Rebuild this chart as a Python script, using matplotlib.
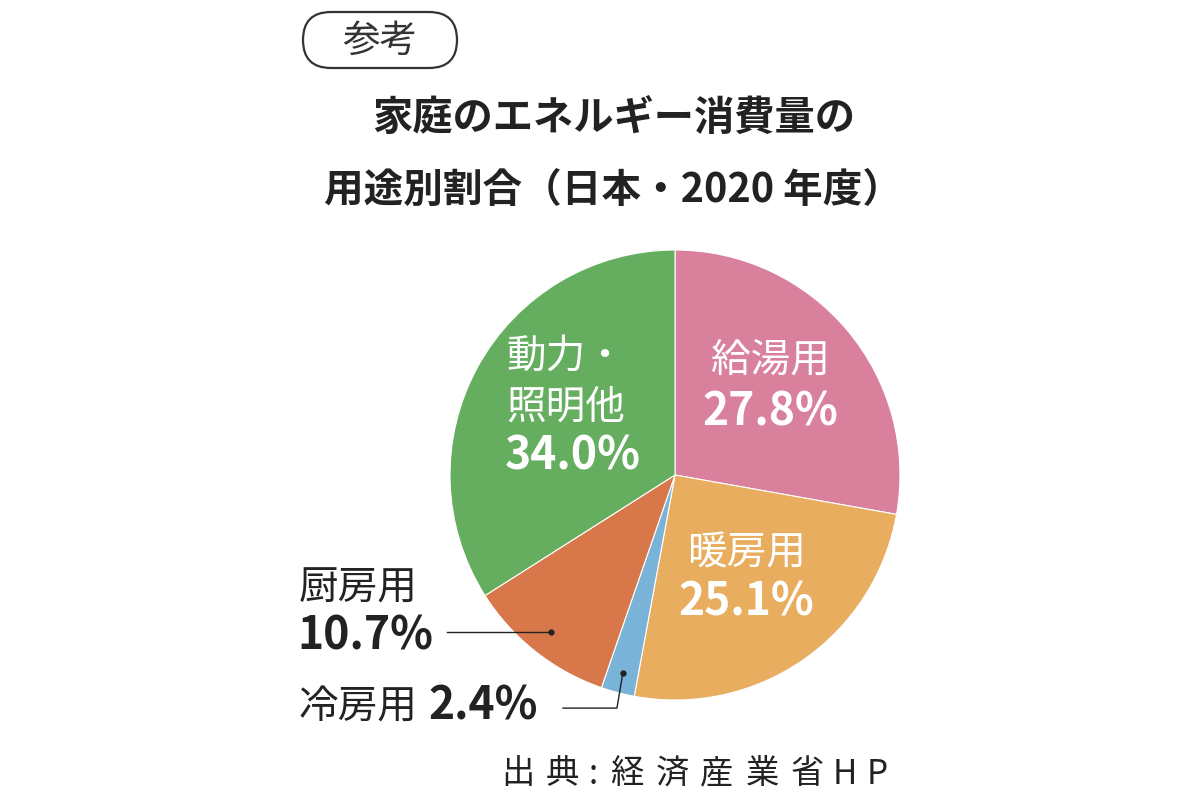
import numpy as np
import matplotlib
matplotlib.use("Agg")
import matplotlib.pyplot as plt
from matplotlib.patches import FancyBboxPatch

plt.rcParams['font.family'] = ['Noto Sans CJK JP', 'DejaVu Sans']

# ---- data ----
categories = ["給湯用", "暖房用", "冷房用", "厨房用", "動力・照明他"]
shares = [27.8, 25.1, 2.4, 10.7, 34.0]
colors = ["#D9809D", "#E8AD5F", "#79B3D8", "#D8784A", "#66AE5F"]
title_lines = ["家庭のエネルギー消費量の", "用途別割合（日本・2020 年度）"]
badge = "参考"
source = "出典:経済産業省HP"

fig = plt.figure(figsize=(12, 8), dpi=100)
fig.patch.set_facecolor("white")

# pie axes: center (675,475), radius 225 px
cx, cy, R = 675, 475, 225
pa = fig.add_axes([(cx - R) / 1200, (800 - cy - R) / 800, 2 * R / 1200, 2 * R / 800])
wedges, _ = pa.pie(shares, colors=colors, startangle=90, counterclock=False,
                   wedgeprops=dict(edgecolor="white", linewidth=0.8))
pa.set_xlim(-1, 1)
pa.set_ylim(-1, 1)
pa.set_aspect("equal")
pa.axis("off")

# overlay axes in pixel coordinates for text (on top)
ov = fig.add_axes([0, 0, 1, 1])
ov.set_xlim(0, 1200)
ov.set_ylim(800, 0)
ov.axis("off")
ov.patch.set_alpha(0)
ov.set_zorder(5)

dark = "#222222"
CJK = 28.5
NUM = 32

# badge
box = FancyBboxPatch((303, 12), 154, 56, boxstyle="round,pad=0,rounding_size=28",
                     fc="white", ec="#333333", lw=1.6, transform=ov.transData)
ov.add_patch(box)
ov.text(380, 41, badge, ha="center", va="center", fontsize=27, color="#333333")

# title
ov.text(614, 118, title_lines[0], ha="center", va="center", fontsize=29,
        fontweight="bold", color=dark)
ov.text(613, 190, title_lines[1], ha="center", va="center", fontsize=28.5,
        fontweight="bold", color=dark)

def pct(v):
    return f"{v:.1f}%"

# inside labels
ov.text(770, 360, categories[0], ha="center", va="center", fontsize=CJK, color="white")
ov.text(770, 413, pct(shares[0]), ha="center", va="center", fontsize=NUM,
        fontweight="bold", color="white")
ov.text(746, 553, categories[1], ha="center", va="center", fontsize=CJK, color="white")
ov.text(746, 603, pct(shares[1]), ha="center", va="center", fontsize=NUM,
        fontweight="bold", color="white")
ov.text(566, 357, "動力・", ha="center", va="center", fontsize=CJK, color="white")
ov.text(566, 408, "照明他", ha="center", va="center", fontsize=CJK, color="white")
ov.text(573, 457, pct(shares[4]), ha="center", va="center", fontsize=NUM,
        fontweight="bold", color="white")

# outside labels
ov.text(299, 588, categories[3], ha="left", va="center", fontsize=CJK, color=dark)
ov.text(297, 637, pct(shares[3]), ha="left", va="center", fontsize=NUM,
        fontweight="bold", color=dark)
ov.text(299, 707, categories[2], ha="left", va="center", fontsize=CJK, color=dark)
ov.text(428, 707, pct(shares[2]), ha="left", va="center", fontsize=NUM,
        fontweight="bold", color=dark)

# leader lines computed from wedge angles
def mid_angle(w):
    return np.deg2rad((w.theta1 + w.theta2) / 2)

a3 = mid_angle(wedges[3])
d3 = (0.89 * np.cos(a3), 0.89 * np.sin(a3))
pa.plot([-1.013, d3[0]], [d3[1], d3[1]], color=dark, lw=1.0, clip_on=False)
pa.plot([d3[0]], [d3[1]], "o", color=dark, ms=3.5, clip_on=False)

a2 = mid_angle(wedges[2])
d2 = (0.91 * np.cos(a2), 0.91 * np.sin(a2))
pa.plot([-0.498, -0.258, d2[0]], [-1.036, -1.036, d2[1]], color=dark, lw=1.0,
        clip_on=False)
pa.plot([d2[0]], [d2[1]], "o", color=dark, ms=3.5, clip_on=False)

# source (letter-spaced)
src_x = [518, 562, 593, 627, 672, 717, 762, 807, 845, 877]
for ch, x in zip(source, src_x):
    ov.text(x, 774, ch, ha="center", va="center", fontsize=24, color=dark)

fig.savefig("out.png", dpi=100, facecolor="white")
